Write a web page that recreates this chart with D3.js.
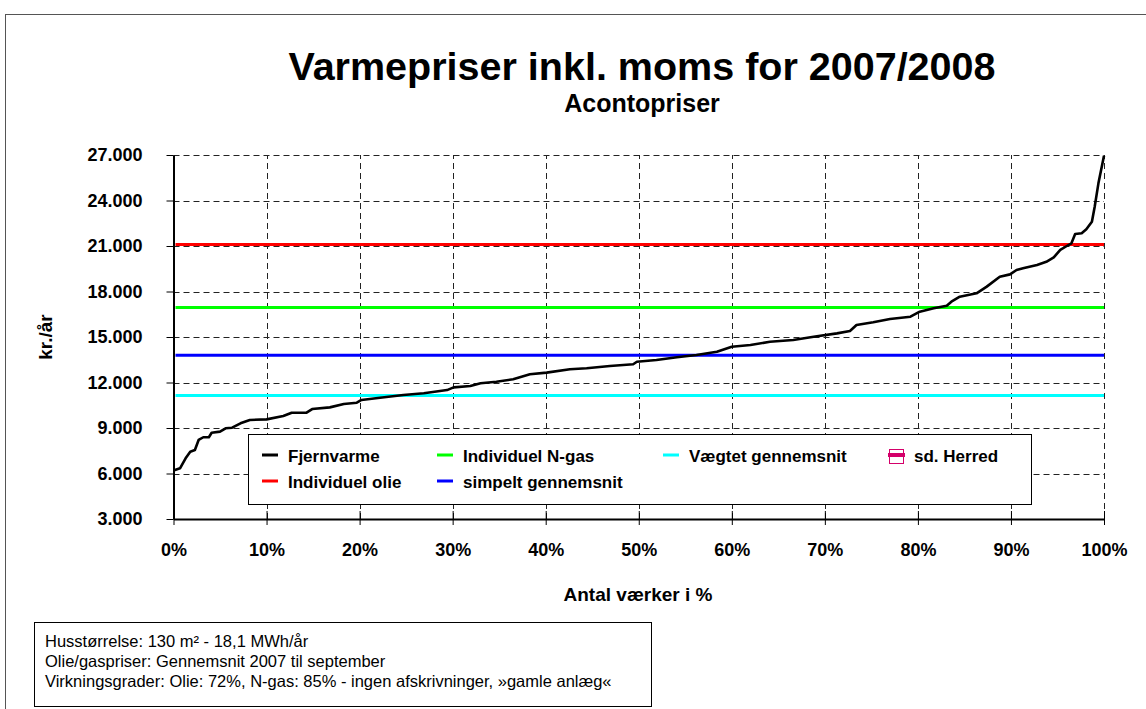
<!DOCTYPE html>
<html lang="da">
<head>
<meta charset="UTF-8">
<title>Varmepriser</title>
<style>
    body { margin: 0; background: #fff; }
    svg { display: block; font-family: "Liberation Sans", Arial, sans-serif; }
</style>
</head>
<body>
<svg id="chart" width="1146" height="709"></svg>
<script src="https://d3js.org/d3.v7.min.js"></script>
<script>
// Fjernvarme prices sorted ascending, share of plants (0..1) vs kr./år
var fjernPct = [0, 0.007, 0.013, 0.018, 0.023, 0.027, 0.032, 0.038, 0.041, 0.050, 0.056, 0.063, 0.072, 0.082,
    0.100, 0.118, 0.127, 0.143, 0.149, 0.168, 0.183, 0.197, 0.202, 0.222, 0.247, 0.269, 0.294, 0.301, 0.319,
    0.330, 0.347, 0.365, 0.383, 0.401, 0.426, 0.444, 0.469, 0.494, 0.498, 0.519, 0.541, 0.562, 0.584, 0.600,
    0.620, 0.641, 0.666, 0.688, 0.713, 0.727, 0.734, 0.752, 0.770, 0.792, 0.802, 0.817, 0.831, 0.836, 0.845,
    0.863, 0.874, 0.888, 0.899, 0.906, 0.913, 0.928, 0.938, 0.946, 0.953, 0.960, 0.965, 0.969, 0.976, 0.981,
    0.987, 0.990, 0.994, 1.000];
var fjernVal = [6200, 6340, 7000, 7440, 7550, 8210, 8390, 8390, 8690, 8760, 8980, 9020, 9310, 9530,
    9570, 9790, 10010, 10010, 10250, 10360, 10580, 10670, 10850, 11000, 11180, 11290, 11500, 11680, 11770,
    11950, 12050, 12210, 12540, 12650, 12870, 12940, 13090, 13200, 13370, 13480, 13660, 13810, 14030, 14360,
    14470, 14690, 14800, 15020, 15240, 15400, 15790, 15970, 16190, 16340, 16670, 16890, 17060, 17330, 17660,
    17880, 18320, 18970, 19130, 19420, 19530, 19750, 19960, 20250, 20740, 21000, 21180, 21790, 21840, 22100,
    22600, 23590, 25130, 26950];

// constant reference prices
var refNames = ["Individuel olie", "Individuel N-gas", "simpelt gennemsnit", "Vægtet gennemsnit"];
var refValues = [21100, 16950, 13800, 11150];
var refColors = ["#ff0000", "#00ff00", "#0000ff", "#00ffff"];

var yTicks = [3000, 6000, 9000, 12000, 15000, 18000, 21000, 24000, 27000];
var xTicks = [0, 0.1, 0.2, 0.3, 0.4, 0.5, 0.6, 0.7, 0.8, 0.9, 1];

var noteLines = ["Husstørrelse: 130 m² - 18,1 MWh/år",
    "Olie/gaspriser: Gennemsnit 2007 til september",
    "Virkningsgrader: Olie: 72%, N-gas: 85% - ingen afskrivninger, »gamle anlæg«"];

var svg = d3.select("#chart");

// outer frame
svg.append("rect").attr("x", 5.5).attr("y", 14.5).attr("width", 1160).attr("height", 720)
    .attr("fill", "none").attr("stroke", "#555").attr("stroke-width", 1);

var x = d3.scaleLinear().domain([0, 1]).range([173.5, 1104]);
var y = d3.scaleLinear().domain([3000, 27000]).range([519, 155]);

var dk = d3.formatLocale({ decimal: ",", thousands: ".", grouping: [3], currency: ["", " kr"] });
var fmtY = dk.format(",.0f");
var fmtX = d3.format(".0%");

// titles
svg.append("text").attr("x", 642).attr("y", 80).attr("text-anchor", "middle")
    .attr("font-size", 39.5).attr("font-weight", "bold").text("Varmepriser inkl. moms for 2007/2008");
svg.append("text").attr("x", 642).attr("y", 112).attr("text-anchor", "middle")
    .attr("font-size", 25).attr("font-weight", "bold").text("Acontopriser");

// grid
var grid = svg.append("g").attr("stroke", "#222").attr("stroke-width", 1).attr("stroke-dasharray", "6,4");
grid.selectAll(".gy").data(yTicks.slice(1)).enter().append("line")
    .attr("x1", x(0)).attr("x2", x(1))
    .attr("y1", d => Math.round(y(d)) + 0.5).attr("y2", d => Math.round(y(d)) + 0.5);
grid.selectAll(".gx").data(xTicks.slice(1)).enter().append("line")
    .attr("y1", y(3000)).attr("y2", y(27000))
    .attr("x1", d => Math.round(x(d)) + 0.5).attr("x2", d => Math.round(x(d)) + 0.5);

// axes
var yAxis = svg.append("g").attr("transform", "translate(" + x(0) + ",0)")
    .call(d3.axisLeft(y).tickValues(yTicks).tickFormat(fmtY).tickSizeInner(7).tickSizeOuter(0).tickPadding(24));
var xAxis = svg.append("g").attr("transform", "translate(0," + y(3000) + ")")
    .call(d3.axisBottom(x).tickValues(xTicks).tickFormat(fmtX).tickSizeOuter(0).tickPadding(18));
xAxis.selectAll(".tick line").attr("y1", -8).attr("y2", 6);
[yAxis, xAxis].forEach(function (a) {
    a.select(".domain").attr("stroke", "#000").attr("stroke-width", 2);
    a.selectAll(".tick line").attr("stroke", "#000");
    a.selectAll("text").attr("font-size", 18).attr("font-weight", "bold").attr("fill", "#000")
        .attr("font-family", "Liberation Sans, Arial, sans-serif");
});

// axis titles
svg.append("text").attr("x", 638).attr("y", 601).attr("text-anchor", "middle")
    .attr("font-size", 19).attr("font-weight", "bold").text("Antal værker i %");
svg.append("text").attr("transform", "translate(52,337) rotate(-90)").attr("text-anchor", "middle")
    .attr("font-size", 19).attr("font-weight", "bold").text("kr./år");

// reference lines
svg.selectAll(".ref").data(refValues).enter().append("line")
    .attr("x1", x(0) + 2).attr("x2", x(1))
    .attr("y1", d => y(d)).attr("y2", d => y(d))
    .attr("stroke", (d, i) => refColors[i]).attr("stroke-width", 3);

// fjernvarme curve
var pts = fjernPct.map((p, i) => [p, fjernVal[i]]);
svg.append("path").datum(pts)
    .attr("d", d3.line().x(d => x(d[0])).y(d => y(d[1])))
    .attr("fill", "none").attr("stroke", "#000").attr("stroke-width", 2.6).attr("stroke-linejoin", "round");

// legend
var lg = svg.append("g");
lg.append("rect").attr("x", 248.5).attr("y", 434.5).attr("width", 783).attr("height", 70)
    .attr("fill", "#fff").attr("stroke", "#000").attr("stroke-width", 1);
var legendItems = [
    { name: "Fjernvarme", color: "#000", col: 262, row: 0 },
    { name: refNames[1], color: refColors[1], col: 437, row: 0 },
    { name: refNames[3], color: refColors[3], col: 663, row: 0 },
    { name: "sd. Herred", color: "#d4006a", col: 888, row: 0, box: true },
    { name: refNames[0], color: refColors[0], col: 262, row: 1 },
    { name: refNames[2], color: refColors[2], col: 437, row: 1 }
];
legendItems.forEach(function (it) {
    var cy = 456 + it.row * 26;
    if (it.box) {
        lg.append("rect").attr("x", it.col + 1.5).attr("y", cy - 6.5).attr("width", 14).attr("height", 14)
            .attr("fill", "#fff").attr("stroke", it.color).attr("stroke-width", 1);
        lg.append("line").attr("x1", it.col).attr("x2", it.col + 17).attr("y1", cy - 1).attr("y2", cy - 1)
            .attr("stroke", it.color).attr("stroke-width", 4);
    } else {
        lg.append("line").attr("x1", it.col).attr("x2", it.col + 16).attr("y1", cy - 1).attr("y2", cy - 1)
            .attr("stroke", it.color).attr("stroke-width", 3);
    }
    lg.append("text").attr("x", it.col + 26).attr("y", cy + 6)
        .attr("font-size", 17).attr("font-weight", "bold").text(it.name);
});

// note box
var nb = svg.append("g");
nb.append("rect").attr("x", 34.5).attr("y", 622.5).attr("width", 617).attr("height", 84)
    .attr("fill", "#fff").attr("stroke", "#000").attr("stroke-width", 1);
nb.selectAll("text").data(noteLines).enter().append("text")
    .attr("x", 45).attr("y", (d, i) => 647 + i * 20)
    .attr("font-size", 16.5).text(d => d);
</script>
</body>
</html>
